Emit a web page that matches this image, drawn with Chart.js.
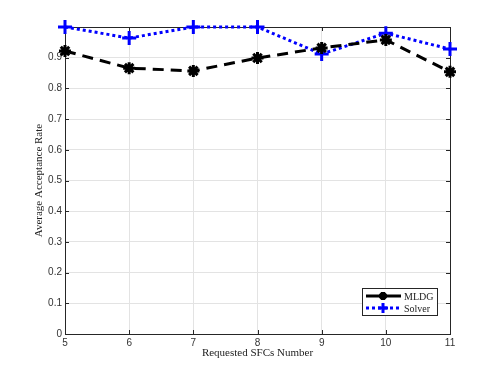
<!DOCTYPE html>
<html>
<head>
<meta charset="utf-8">
<script src="https://cdn.jsdelivr.net/npm/chart.js@4"></script>
<style>
  html, body { margin: 0; padding: 0; background: #fff; }
  #wrap { width: 498px; height: 374px; }
</style>
</head>
<body>
<div id="wrap"><canvas id="chart" width="498" height="374"></canvas></div>
<script>
const sfcCounts = [5, 6, 7, 8, 9, 10, 11];
const mldgRate = [0.922, 0.866, 0.857, 0.899, 0.932, 0.958, 0.854];
const solverRate = [1.0, 0.964, 1.0, 1.0, 0.912, 0.980, 0.928];
const yTicks = [0, 0.1, 0.2, 0.3, 0.4, 0.5, 0.6, 0.7, 0.8, 0.9];

// box, inner ticks and legend like a matlab figure
const matlabFrame = {
    id: "matlabFrame",
    beforeDatasetsDraw(chart) {
        const { ctx, chartArea: a, scales } = chart;
        ctx.save();
        ctx.strokeStyle = "#262626";
        ctx.lineWidth = 1;
        ctx.strokeRect(a.left + 0.5, a.top + 0.5, a.right - a.left, a.bottom - a.top);
        ctx.beginPath();
        sfcCounts.forEach(v => {
            const x = Math.round(scales.x.getPixelForValue(v)) + 0.5;
            ctx.moveTo(x, a.bottom); ctx.lineTo(x, a.bottom - 4);
            ctx.moveTo(x, a.top); ctx.lineTo(x, a.top + 4);
        });
        yTicks.concat([1]).forEach(v => {
            const y = Math.round(scales.y.getPixelForValue(v)) + 0.5;
            ctx.moveTo(a.left, y); ctx.lineTo(a.left + 4, y);
            ctx.moveTo(a.right, y); ctx.lineTo(a.right - 4, y);
        });
        ctx.stroke();
        ctx.restore();
    },
    afterDatasetsDraw(chart) {
        const { ctx } = chart;
        const lx = 362, ly = 288, lw = 75, lh = 27;
        ctx.save();
        ctx.fillStyle = "#fff";
        ctx.fillRect(lx, ly, lw, lh);
        ctx.strokeStyle = "#262626";
        ctx.lineWidth = 1;
        ctx.strokeRect(lx + 0.5, ly + 0.5, lw, lh);
        chart.data.datasets.forEach((ds, i) => {
            const cy = ly + 8 + i * 12;
            ctx.strokeStyle = ds.borderColor;
            ctx.lineWidth = 3;
            ctx.setLineDash(i === 0 ? [] : [3, 3]);
            ctx.beginPath();
            ctx.moveTo(lx + 4, cy); ctx.lineTo(lx + 39, cy);
            ctx.stroke();
            ctx.setLineDash([]);
            Chart.helpers.drawPoint(ctx, {
                pointStyle: ds.pointStyle,
                radius: i === 0 ? 4 : 5,
                borderWidth: ds.pointBorderWidth
            }, lx + 21, cy);
            ctx.fillStyle = "#222";
            ctx.font = "10px 'Liberation Serif', serif";
            ctx.textBaseline = "middle";
            ctx.fillText(ds.label, lx + 42, cy + 1);
        });
        ctx.restore();
    }
};

new Chart(document.getElementById("chart"), {
    type: "line",
    data: {
        datasets: [{
            label: "MLDG",
            data: sfcCounts.map((x, i) => ({ x: x, y: mldgRate[i] })),
            borderColor: "#000000",
            backgroundColor: "#000000",
            borderWidth: 3,
            borderDash: [11, 7],
            pointStyle: "star",
            pointRadius: 6,
            pointBorderWidth: 3,
            clip: false,
            tension: 0
        }, {
            label: "Solver",
            data: sfcCounts.map((x, i) => ({ x: x, y: solverRate[i] })),
            borderColor: "#0000ff",
            backgroundColor: "#0000ff",
            borderWidth: 3,
            borderDash: [3, 3],
            pointStyle: "cross",
            pointRadius: 7,
            pointBorderWidth: 3,
            clip: false,
            tension: 0
        }]
    },
    options: {
        responsive: false,
        animation: false,
        layout: { padding: { top: 27, right: 48, left: 0, bottom: 0 } },
        plugins: { legend: { display: false }, tooltip: { enabled: false } },
        scales: {
            x: {
                type: "linear",
                min: 5, max: 11,
                afterBuildTicks: s => { s.ticks = sfcCounts.map(v => ({ value: v })); },
                afterFit: s => { s.height = 40; },
                grid: { color: "#e3e3e3", drawTicks: false },
                border: { display: false },
                ticks: { color: "#333", font: { family: "'Liberation Sans', sans-serif", size: 10 }, padding: 3 },
                title: { display: true, text: "Requested SFCs Number", color: "#222",
                         font: { family: "'Liberation Serif', serif", size: 11 }, padding: { top: 14, bottom: 14 } }
            },
            y: {
                min: 0, max: 1,
                afterBuildTicks: s => { s.ticks = yTicks.concat([1]).map(v => ({ value: v })); },
                afterFit: s => { s.width = 65; },
                grid: { color: "#e3e3e3", drawTicks: false },
                border: { display: false },
                ticks: {
                    color: "#333",
                    font: { family: "'Liberation Sans', sans-serif", size: 10 },
                    padding: 3,
                    callback: v => (v >= 1 ? "" : String(Math.round(v * 10) / 10))
                },
                title: { display: true, text: "Average Acceptance Rate", color: "#222",
                         font: { family: "'Liberation Serif', serif", size: 11 }, padding: { top: 33, bottom: 33 } }
            }
        }
    },
    plugins: [matlabFrame]
});
</script>
</body>
</html>
